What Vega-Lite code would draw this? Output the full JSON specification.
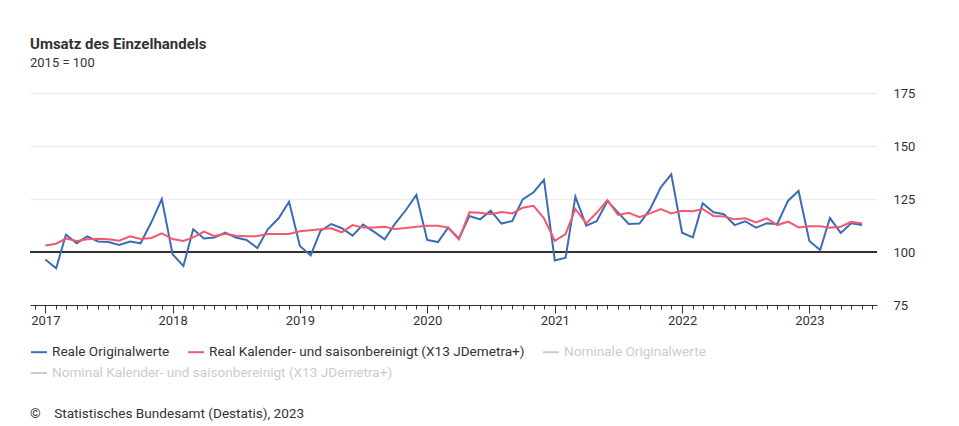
{
  "$schema": "https://vega.github.io/schema/vega-lite/v6.json",
  "padding": {"left": 29, "top": 37, "right": 10, "bottom": 4},
  "background": "white",
  "spacing": 0,
  "title": {
    "text": "Umsatz des Einzelhandels",
    "subtitle": "2015 = 100",
    "anchor": "start",
    "frame": "group",
    "font": "Roboto",
    "fontSize": 15,
    "fontWeight": "bold",
    "color": "#333333",
    "subtitleFont": "Roboto",
    "subtitleFontSize": 13,
    "subtitleColor": "#333333",
    "subtitlePadding": 5,
    "offset": 17
  },
  "config": {
    "view": {"stroke": null},
    "font": "Roboto"
  },
  "resolve": {"scale": {"color": "independent"}, "legend": {"color": "independent"}},
  "vconcat": [
    {
      "width": 847,
      "height": 212,
      "data": {
        "values": [
          {"m":"2017-01-01","s":"Reale Originalwerte","v":96.5},
          {"m":"2017-02-01","s":"Reale Originalwerte","v":92.3},
          {"m":"2017-03-01","s":"Reale Originalwerte","v":108.2},
          {"m":"2017-04-01","s":"Reale Originalwerte","v":104.1},
          {"m":"2017-05-01","s":"Reale Originalwerte","v":107.4},
          {"m":"2017-06-01","s":"Reale Originalwerte","v":105.0},
          {"m":"2017-07-01","s":"Reale Originalwerte","v":104.7},
          {"m":"2017-08-01","s":"Reale Originalwerte","v":103.3},
          {"m":"2017-09-01","s":"Reale Originalwerte","v":104.9},
          {"m":"2017-10-01","s":"Reale Originalwerte","v":104.1},
          {"m":"2017-11-01","s":"Reale Originalwerte","v":114.0},
          {"m":"2017-12-01","s":"Reale Originalwerte","v":125.0},
          {"m":"2018-01-01","s":"Reale Originalwerte","v":98.9},
          {"m":"2018-02-01","s":"Reale Originalwerte","v":93.4},
          {"m":"2018-03-01","s":"Reale Originalwerte","v":110.7},
          {"m":"2018-04-01","s":"Reale Originalwerte","v":106.4},
          {"m":"2018-05-01","s":"Reale Originalwerte","v":106.8},
          {"m":"2018-06-01","s":"Reale Originalwerte","v":109.1},
          {"m":"2018-07-01","s":"Reale Originalwerte","v":106.8},
          {"m":"2018-08-01","s":"Reale Originalwerte","v":105.7},
          {"m":"2018-09-01","s":"Reale Originalwerte","v":101.9},
          {"m":"2018-10-01","s":"Reale Originalwerte","v":110.7},
          {"m":"2018-11-01","s":"Reale Originalwerte","v":115.9},
          {"m":"2018-12-01","s":"Reale Originalwerte","v":123.7},
          {"m":"2019-01-01","s":"Reale Originalwerte","v":102.8},
          {"m":"2019-02-01","s":"Reale Originalwerte","v":98.4},
          {"m":"2019-03-01","s":"Reale Originalwerte","v":110.0},
          {"m":"2019-04-01","s":"Reale Originalwerte","v":113.2},
          {"m":"2019-05-01","s":"Reale Originalwerte","v":111.2},
          {"m":"2019-06-01","s":"Reale Originalwerte","v":107.7},
          {"m":"2019-07-01","s":"Reale Originalwerte","v":112.9},
          {"m":"2019-08-01","s":"Reale Originalwerte","v":109.6},
          {"m":"2019-09-01","s":"Reale Originalwerte","v":106.0},
          {"m":"2019-10-01","s":"Reale Originalwerte","v":113.4},
          {"m":"2019-11-01","s":"Reale Originalwerte","v":119.8},
          {"m":"2019-12-01","s":"Reale Originalwerte","v":126.9},
          {"m":"2020-01-01","s":"Reale Originalwerte","v":105.7},
          {"m":"2020-02-01","s":"Reale Originalwerte","v":104.7},
          {"m":"2020-03-01","s":"Reale Originalwerte","v":111.5},
          {"m":"2020-04-01","s":"Reale Originalwerte","v":106.4},
          {"m":"2020-05-01","s":"Reale Originalwerte","v":117.0},
          {"m":"2020-06-01","s":"Reale Originalwerte","v":115.4},
          {"m":"2020-07-01","s":"Reale Originalwerte","v":119.5},
          {"m":"2020-08-01","s":"Reale Originalwerte","v":113.4},
          {"m":"2020-09-01","s":"Reale Originalwerte","v":114.6},
          {"m":"2020-10-01","s":"Reale Originalwerte","v":124.8},
          {"m":"2020-11-01","s":"Reale Originalwerte","v":128.2},
          {"m":"2020-12-01","s":"Reale Originalwerte","v":134.0},
          {"m":"2021-01-01","s":"Reale Originalwerte","v":96.0},
          {"m":"2021-02-01","s":"Reale Originalwerte","v":97.3},
          {"m":"2021-03-01","s":"Reale Originalwerte","v":126.1},
          {"m":"2021-04-01","s":"Reale Originalwerte","v":112.4},
          {"m":"2021-05-01","s":"Reale Originalwerte","v":114.5},
          {"m":"2021-06-01","s":"Reale Originalwerte","v":124.1},
          {"m":"2021-07-01","s":"Reale Originalwerte","v":118.7},
          {"m":"2021-08-01","s":"Reale Originalwerte","v":113.2},
          {"m":"2021-09-01","s":"Reale Originalwerte","v":113.4},
          {"m":"2021-10-01","s":"Reale Originalwerte","v":120.1},
          {"m":"2021-11-01","s":"Reale Originalwerte","v":130.5},
          {"m":"2021-12-01","s":"Reale Originalwerte","v":136.6},
          {"m":"2022-01-01","s":"Reale Originalwerte","v":109.1},
          {"m":"2022-02-01","s":"Reale Originalwerte","v":106.9},
          {"m":"2022-03-01","s":"Reale Originalwerte","v":123.0},
          {"m":"2022-04-01","s":"Reale Originalwerte","v":118.7},
          {"m":"2022-05-01","s":"Reale Originalwerte","v":117.8},
          {"m":"2022-06-01","s":"Reale Originalwerte","v":112.7},
          {"m":"2022-07-01","s":"Reale Originalwerte","v":114.5},
          {"m":"2022-08-01","s":"Reale Originalwerte","v":111.5},
          {"m":"2022-09-01","s":"Reale Originalwerte","v":113.5},
          {"m":"2022-10-01","s":"Reale Originalwerte","v":113.2},
          {"m":"2022-11-01","s":"Reale Originalwerte","v":124.2},
          {"m":"2022-12-01","s":"Reale Originalwerte","v":128.8},
          {"m":"2023-01-01","s":"Reale Originalwerte","v":105.2},
          {"m":"2023-02-01","s":"Reale Originalwerte","v":100.9},
          {"m":"2023-03-01","s":"Reale Originalwerte","v":116.0},
          {"m":"2023-04-01","s":"Reale Originalwerte","v":109.0},
          {"m":"2023-05-01","s":"Reale Originalwerte","v":113.5},
          {"m":"2023-06-01","s":"Reale Originalwerte","v":112.7},
          {"m":"2017-01-01","s":"Real Kalender- und saisonbereinigt (X13 JDemetra+)","v":103.1},
          {"m":"2017-02-01","s":"Real Kalender- und saisonbereinigt (X13 JDemetra+)","v":103.9},
          {"m":"2017-03-01","s":"Real Kalender- und saisonbereinigt (X13 JDemetra+)","v":106.3},
          {"m":"2017-04-01","s":"Real Kalender- und saisonbereinigt (X13 JDemetra+)","v":105.2},
          {"m":"2017-05-01","s":"Real Kalender- und saisonbereinigt (X13 JDemetra+)","v":106.0},
          {"m":"2017-06-01","s":"Real Kalender- und saisonbereinigt (X13 JDemetra+)","v":106.3},
          {"m":"2017-07-01","s":"Real Kalender- und saisonbereinigt (X13 JDemetra+)","v":106.0},
          {"m":"2017-08-01","s":"Real Kalender- und saisonbereinigt (X13 JDemetra+)","v":105.3},
          {"m":"2017-09-01","s":"Real Kalender- und saisonbereinigt (X13 JDemetra+)","v":107.4},
          {"m":"2017-10-01","s":"Real Kalender- und saisonbereinigt (X13 JDemetra+)","v":106.1},
          {"m":"2017-11-01","s":"Real Kalender- und saisonbereinigt (X13 JDemetra+)","v":106.6},
          {"m":"2017-12-01","s":"Real Kalender- und saisonbereinigt (X13 JDemetra+)","v":108.8},
          {"m":"2018-01-01","s":"Real Kalender- und saisonbereinigt (X13 JDemetra+)","v":106.1},
          {"m":"2018-02-01","s":"Real Kalender- und saisonbereinigt (X13 JDemetra+)","v":105.2},
          {"m":"2018-03-01","s":"Real Kalender- und saisonbereinigt (X13 JDemetra+)","v":106.9},
          {"m":"2018-04-01","s":"Real Kalender- und saisonbereinigt (X13 JDemetra+)","v":109.6},
          {"m":"2018-05-01","s":"Real Kalender- und saisonbereinigt (X13 JDemetra+)","v":107.5},
          {"m":"2018-06-01","s":"Real Kalender- und saisonbereinigt (X13 JDemetra+)","v":108.6},
          {"m":"2018-07-01","s":"Real Kalender- und saisonbereinigt (X13 JDemetra+)","v":107.7},
          {"m":"2018-08-01","s":"Real Kalender- und saisonbereinigt (X13 JDemetra+)","v":107.4},
          {"m":"2018-09-01","s":"Real Kalender- und saisonbereinigt (X13 JDemetra+)","v":107.5},
          {"m":"2018-10-01","s":"Real Kalender- und saisonbereinigt (X13 JDemetra+)","v":108.5},
          {"m":"2018-11-01","s":"Real Kalender- und saisonbereinigt (X13 JDemetra+)","v":108.5},
          {"m":"2018-12-01","s":"Real Kalender- und saisonbereinigt (X13 JDemetra+)","v":108.5},
          {"m":"2019-01-01","s":"Real Kalender- und saisonbereinigt (X13 JDemetra+)","v":109.8},
          {"m":"2019-02-01","s":"Real Kalender- und saisonbereinigt (X13 JDemetra+)","v":110.3},
          {"m":"2019-03-01","s":"Real Kalender- und saisonbereinigt (X13 JDemetra+)","v":110.7},
          {"m":"2019-04-01","s":"Real Kalender- und saisonbereinigt (X13 JDemetra+)","v":111.2},
          {"m":"2019-05-01","s":"Real Kalender- und saisonbereinigt (X13 JDemetra+)","v":109.3},
          {"m":"2019-06-01","s":"Real Kalender- und saisonbereinigt (X13 JDemetra+)","v":112.7},
          {"m":"2019-07-01","s":"Real Kalender- und saisonbereinigt (X13 JDemetra+)","v":111.5},
          {"m":"2019-08-01","s":"Real Kalender- und saisonbereinigt (X13 JDemetra+)","v":111.5},
          {"m":"2019-09-01","s":"Real Kalender- und saisonbereinigt (X13 JDemetra+)","v":111.9},
          {"m":"2019-10-01","s":"Real Kalender- und saisonbereinigt (X13 JDemetra+)","v":110.8},
          {"m":"2019-11-01","s":"Real Kalender- und saisonbereinigt (X13 JDemetra+)","v":111.3},
          {"m":"2019-12-01","s":"Real Kalender- und saisonbereinigt (X13 JDemetra+)","v":111.9},
          {"m":"2020-01-01","s":"Real Kalender- und saisonbereinigt (X13 JDemetra+)","v":112.4},
          {"m":"2020-02-01","s":"Real Kalender- und saisonbereinigt (X13 JDemetra+)","v":112.4},
          {"m":"2020-03-01","s":"Real Kalender- und saisonbereinigt (X13 JDemetra+)","v":111.5},
          {"m":"2020-04-01","s":"Real Kalender- und saisonbereinigt (X13 JDemetra+)","v":106.0},
          {"m":"2020-05-01","s":"Real Kalender- und saisonbereinigt (X13 JDemetra+)","v":118.7},
          {"m":"2020-06-01","s":"Real Kalender- und saisonbereinigt (X13 JDemetra+)","v":118.5},
          {"m":"2020-07-01","s":"Real Kalender- und saisonbereinigt (X13 JDemetra+)","v":117.8},
          {"m":"2020-08-01","s":"Real Kalender- und saisonbereinigt (X13 JDemetra+)","v":118.9},
          {"m":"2020-09-01","s":"Real Kalender- und saisonbereinigt (X13 JDemetra+)","v":118.2},
          {"m":"2020-10-01","s":"Real Kalender- und saisonbereinigt (X13 JDemetra+)","v":120.9},
          {"m":"2020-11-01","s":"Real Kalender- und saisonbereinigt (X13 JDemetra+)","v":121.8},
          {"m":"2020-12-01","s":"Real Kalender- und saisonbereinigt (X13 JDemetra+)","v":115.9},
          {"m":"2021-01-01","s":"Real Kalender- und saisonbereinigt (X13 JDemetra+)","v":105.3},
          {"m":"2021-02-01","s":"Real Kalender- und saisonbereinigt (X13 JDemetra+)","v":108.5},
          {"m":"2021-03-01","s":"Real Kalender- und saisonbereinigt (X13 JDemetra+)","v":120.3},
          {"m":"2021-04-01","s":"Real Kalender- und saisonbereinigt (X13 JDemetra+)","v":113.5},
          {"m":"2021-05-01","s":"Real Kalender- und saisonbereinigt (X13 JDemetra+)","v":118.5},
          {"m":"2021-06-01","s":"Real Kalender- und saisonbereinigt (X13 JDemetra+)","v":124.5},
          {"m":"2021-07-01","s":"Real Kalender- und saisonbereinigt (X13 JDemetra+)","v":117.5},
          {"m":"2021-08-01","s":"Real Kalender- und saisonbereinigt (X13 JDemetra+)","v":118.5},
          {"m":"2021-09-01","s":"Real Kalender- und saisonbereinigt (X13 JDemetra+)","v":116.4},
          {"m":"2021-10-01","s":"Real Kalender- und saisonbereinigt (X13 JDemetra+)","v":118.2},
          {"m":"2021-11-01","s":"Real Kalender- und saisonbereinigt (X13 JDemetra+)","v":120.3},
          {"m":"2021-12-01","s":"Real Kalender- und saisonbereinigt (X13 JDemetra+)","v":118.2},
          {"m":"2022-01-01","s":"Real Kalender- und saisonbereinigt (X13 JDemetra+)","v":119.5},
          {"m":"2022-02-01","s":"Real Kalender- und saisonbereinigt (X13 JDemetra+)","v":119.2},
          {"m":"2022-03-01","s":"Real Kalender- und saisonbereinigt (X13 JDemetra+)","v":120.3},
          {"m":"2022-04-01","s":"Real Kalender- und saisonbereinigt (X13 JDemetra+)","v":117.0},
          {"m":"2022-05-01","s":"Real Kalender- und saisonbereinigt (X13 JDemetra+)","v":116.7},
          {"m":"2022-06-01","s":"Real Kalender- und saisonbereinigt (X13 JDemetra+)","v":115.4},
          {"m":"2022-07-01","s":"Real Kalender- und saisonbereinigt (X13 JDemetra+)","v":115.9},
          {"m":"2022-08-01","s":"Real Kalender- und saisonbereinigt (X13 JDemetra+)","v":114.0},
          {"m":"2022-09-01","s":"Real Kalender- und saisonbereinigt (X13 JDemetra+)","v":115.9},
          {"m":"2022-10-01","s":"Real Kalender- und saisonbereinigt (X13 JDemetra+)","v":112.7},
          {"m":"2022-11-01","s":"Real Kalender- und saisonbereinigt (X13 JDemetra+)","v":114.3},
          {"m":"2022-12-01","s":"Real Kalender- und saisonbereinigt (X13 JDemetra+)","v":111.6},
          {"m":"2023-01-01","s":"Real Kalender- und saisonbereinigt (X13 JDemetra+)","v":112.1},
          {"m":"2023-02-01","s":"Real Kalender- und saisonbereinigt (X13 JDemetra+)","v":112.1},
          {"m":"2023-03-01","s":"Real Kalender- und saisonbereinigt (X13 JDemetra+)","v":111.5},
          {"m":"2023-04-01","s":"Real Kalender- und saisonbereinigt (X13 JDemetra+)","v":111.9},
          {"m":"2023-05-01","s":"Real Kalender- und saisonbereinigt (X13 JDemetra+)","v":114.2},
          {"m":"2023-06-01","s":"Real Kalender- und saisonbereinigt (X13 JDemetra+)","v":113.5}
        ]
      },
      "layer": [
        {
          "mark": {"type": "rule", "color": "#333333", "strokeWidth": 1},
          "encoding": {"y": {"datum": 100, "type": "quantitative"}}
        },
        {
          "mark": {"type": "line", "strokeWidth": 2, "interpolate": "linear"},
          "encoding": {
            "x": {
              "field": "m",
              "type": "temporal",
              "scale": {
                "type": "utc",
                "nice": false,
                "domain": [
                  {"year": 2016, "month": 11, "date": 18, "utc": true},
                  {"year": 2023, "month": 7, "date": 14, "utc": true}
                ]
              },
              "axis": {
                "title": null,
                "grid": false,
                "tickCount": {"interval": "month", "step": 1},
                "labelExpr": "utcmonth(datum.value) == 0 ? utcFormat(datum.value, '%Y') : ''",
                "labelFlush": false,
                "labelOverlap": false,
                "labelFont": "Roboto",
                "labelFontSize": 13,
                "labelColor": "#333333",
                "labelPadding": 1,
                "domainColor": "#333333",
                "domainWidth": 1,
                "tickColor": "#333333",
                "tickSize": {"condition": {"test": "utcmonth(datum.value) == 0", "value": 8}, "value": 4}
              }
            },
            "y": {
              "field": "v",
              "type": "quantitative",
              "scale": {"domain": [75, 175], "nice": false, "zero": false},
              "axis": {
                "orient": "right",
                "title": null,
                "values": [75, 100, 125, 150, 175],
                "domain": false,
                "ticks": false,
                "grid": true,
                "gridColor": "#eeeeee",
                "gridWidth": 1.5,
                "labelPadding": 16,
                "labelFont": "Roboto",
                "labelFontSize": 13,
                "labelColor": "#333333"
              }
            },
            "color": {
              "field": "s",
              "type": "nominal",
              "sort": null,
              "scale": {
                "domain": [
                  "Reale Originalwerte",
                  "Real Kalender- und saisonbereinigt (X13 JDemetra+)",
                  "Nominale Originalwerte"
                ],
                "range": ["#3c6db4", "#f05a6e", "#cccccc"]
              },
              "legend": {
                "orient": "bottom",
                "direction": "horizontal",
                "columnPadding": 14,
                "offset": 16,
                "padding": 0,
                "symbolType": "stroke",
                "symbolSize": 256,
                "symbolStrokeWidth": 2,
                "labelOffset": 4,
                "labelLimit": 0,
                "labelFont": "Roboto",
                "labelFontSize": 13.6,
                "labelColor": "#333333",
                "title": null,
                "encode": {
                  "labels": {
                    "update": {
                      "fill": {"signal": "datum.label == 'Nominale Originalwerte' ? '#cccccc' : '#333333'"}
                    }
                  }
                }
              }
            }
          }
        }
      ]
    },
    {
      "width": 847,
      "height": 1,
      "data": {"values": [{"s": "Nominal Kalender- und saisonbereinigt (X13 JDemetra+)"}]},
      "mark": {"type": "rule", "opacity": 0},
      "encoding": {
        "y": {"datum": 0, "type": "quantitative", "scale": {"domain": [0, 1]}, "axis": null},
        "color": {
          "field": "s",
          "type": "nominal",
          "scale": {"range": ["#cccccc"]},
          "legend": {
            "orient": "bottom",
            "direction": "horizontal",
            "offset": 4,
            "padding": 0,
            "symbolType": "stroke",
            "symbolSize": 256,
            "symbolStrokeWidth": 2,
            "symbolOpacity": 1,
            "symbolStrokeColor": "#cccccc",
            "labelOffset": 4,
            "labelLimit": 0,
            "labelFont": "Roboto",
            "labelFontSize": 13.6,
            "labelColor": "#cccccc",
            "title": "©\u00a0\u00a0\u00a0\u00a0Statistisches Bundesamt (Destatis), 2023",
            "titleOrient": "bottom",
            "titleAnchor": "start",
            "titleFont": "Roboto",
            "titleFontSize": 13.6,
            "titleFontWeight": "normal",
            "titleColor": "#333333",
            "titlePadding": 27,
            "titleLimit": 0,
            "encode": {
              "symbols": {"update": {"opacity": {"value": 1}, "strokeOpacity": {"value": 1}}}
            }
          }
        }
      }
    }
  ]
}
